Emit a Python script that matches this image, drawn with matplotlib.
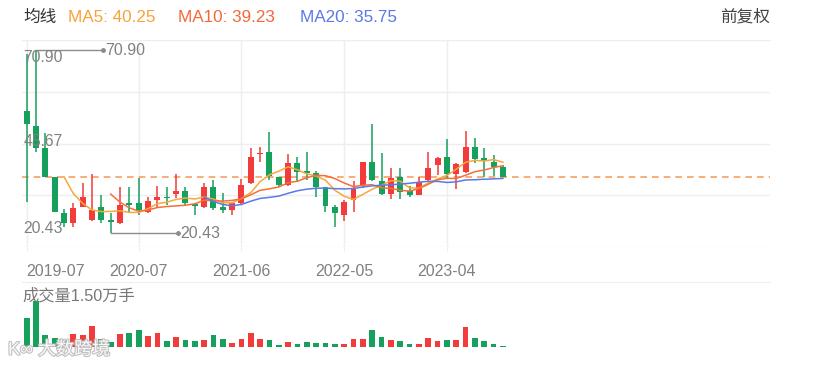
import numpy as np
import pandas as pd
import matplotlib
matplotlib.use("Agg")
import matplotlib.pyplot as plt
import matplotlib.patheffects as pe
from matplotlib.transforms import blended_transform_factory

plt.rcParams['font.family'] = ['Liberation Sans', 'Noto Sans CJK SC', 'DejaVu Sans']

# 月K线数据 (2019-07 ~ 2023-10)
opens = [54.08, 49.94, 43.87, 35.87, 25.94, 23.19, 27.60, 24.01, 27.60, 24.01,
         23.19, 28.70, 28.70, 26.22, 29.53, 30.36, 31.18, 32.01, 28.43, 27.60,
         33.12, 27.60, 26.77, 28.70, 34.22, 42.22, 42.77, 35.87, 33.67, 39.73,
         37.53, 36.98, 33.12, 27.60, 25.39, 29.53, 33.67, 40.01, 34.77, 31.18,
         35.87, 32.01, 30.91, 35.05, 39.18, 41.39, 36.70, 37.25, 44.15, 41.11,
         40.01, 38.63]
closes = [50.49, 43.87, 35.87, 26.22, 23.19, 27.32, 30.36, 26.77, 24.01, 23.46,
          28.15, 28.15, 26.77, 29.25, 30.36, 30.08, 32.01, 28.70, 27.88, 33.12,
          27.32, 26.77, 28.70, 33.67, 41.39, 42.49, 36.15, 33.67, 39.73, 37.25,
          36.98, 33.12, 27.88, 25.94, 28.98, 32.56, 40.01, 35.05, 31.18, 35.60,
          31.74, 30.91, 34.49, 38.36, 41.11, 36.70, 39.46, 44.15, 40.84, 40.29,
          38.63, 35.87]
highs = [69.80, 70.90, 48.01, 35.95, 27.05, 28.70, 34.22, 36.70, 30.91, 25.94,
         33.12, 33.12, 35.60, 30.36, 33.39, 33.12, 36.70, 33.12, 28.70, 34.22,
         35.05, 31.46, 28.98, 35.32, 43.87, 44.15, 48.28, 35.95, 42.22, 41.39,
         42.77, 37.53, 33.20, 28.15, 29.53, 34.77, 40.10, 50.49, 42.49, 38.36,
         38.36, 33.39, 35.87, 42.77, 41.39, 46.35, 39.73, 48.56, 46.63, 43.87,
         41.94, 39.18]
lows = [28.98, 42.77, 35.80, 26.10, 22.08, 22.08, 27.50, 23.74, 23.19, 20.43,
        23.00, 25.94, 25.39, 25.94, 27.60, 28.15, 30.08, 28.15, 25.39, 27.32,
        26.77, 25.94, 25.39, 28.15, 34.00, 40.01, 35.05, 33.12, 33.39, 34.49,
        35.05, 30.36, 26.22, 22.08, 23.74, 26.22, 32.84, 34.77, 30.91, 29.81,
        29.81, 30.36, 30.80, 34.49, 36.42, 35.60, 32.56, 37.10, 39.73, 35.87,
        36.15, 35.80]
# 成交量 (手)
volumes = [9450, 14750, 3970, 3000, 2160, 4100, 3770, 6770, 2680, 1520,
           4100, 4520, 5580, 3550, 4610, 1840, 3230, 2160, 1940, 2160,
           3870, 2480, 1390, 2580, 4610, 2480, 2350, 550, 1520, 1060,
           1710, 1290, 1290, 1060, 1060, 2580, 2680, 5390, 3230, 2350,
           1840, 1060, 870, 2900, 1940, 2350, 2350, 6450, 3000, 1840,
           1060, 320]

tick_idx = [0, 12, 23, 34, 45]
tick_labels = ["2019-07", "2020-07", "2021-06", "2022-05", "2023-04"]
price_labels = [70.90, 45.67, 20.43]
ma_windows = [5, 10, 20]
ma_texts = ["MA5: 40.25", "MA10: 39.23", "MA20: 35.75"]
vol_label = "成交量1.50万手"

RED = "#F23B3B"
GREEN = "#15A05C"
MA_COLORS = ["#F7A83A", "#F2713A", "#5B7AE6"]
GRID = "#EEEEEE"
LABEL = "#808080"

W, H = 832, 366


def rect(x0, y0, x1, y1):
    return [x0 / W, 1 - y1 / H, (x1 - x0) / W, (y1 - y0) / H]


o = np.array(opens)
c = np.array(closes)
hi = np.array(highs)
lo = np.array(lows)
x = np.arange(len(c))
up = c >= o
colors = np.where(up, RED, GREEN)

fig = plt.figure(figsize=(W / 100, H / 100), dpi=100)
fig.patch.set_facecolor("white")

# ---- 价格区 ----
ax = fig.add_axes(rect(22, 40, 770, 247))
ax.set_xlim(-0.5, 79.6)
ax.set_ylim(16.57, 73.66)
for s in ["left", "right", "bottom"]:
    ax.spines[s].set_visible(False)
ax.spines["top"].set_color(GRID)
ax.set_yticks(np.linspace(16.57, 73.66, 5))
ax.tick_params(axis="y", left=False, labelleft=False)
ax.grid(True, color=GRID, lw=1)
ax.set_axisbelow(True)
ax.set_xticks(tick_idx)
ax.set_xticklabels(tick_labels, fontsize=11.5, color=LABEL)
ax.get_xticklabels()[0].set_ha("left")
ax.tick_params(axis="x", length=3, color=GRID, pad=9)

# 影线 + 实体
ax.vlines(x, lo, hi, colors=colors, lw=1.1, zorder=3)
body_h = np.maximum(np.abs(c - o), 0.25)
ax.bar(x, body_h, bottom=np.minimum(o, c), width=0.64, color=colors, zorder=4)

# 均线
cs = pd.Series(c)
for w, col in zip(ma_windows, MA_COLORS):
    ma = cs.rolling(w).mean()
    ax.plot(x, ma, color=col, lw=1.1, zorder=5)

# 最新价虚线
ax.axhline(c[-1], color="#F7A060", lw=1.2, ls=(0, (4, 3)), zorder=2)

# 最高 / 最低标注
i_max, i_min = int(np.argmax(hi)), int(np.argmin(lo))
for i, v in [(i_max, hi[i_max]), (i_min, lo[i_min])]:
    ax.plot([i, i + 7.2], [v, v], color="#8C8C8C", lw=1, zorder=6)
    ax.plot([i + 7.2], [v], "o", color="#8C8C8C", ms=2.5, zorder=6)
    ax.text(i + 7.4, v, f"{v:.2f}", fontsize=11.5, color=LABEL, va="center", ha="left")

# 左侧价格标签
tr = blended_transform_factory(ax.transAxes, ax.transData)
for v, va in zip(price_labels, ["top", "center", "baseline"]):
    ax.text(0.002, v, f"{v:.2f}", transform=tr, fontsize=11.3, color=LABEL,
            va=va, ha="left", zorder=7)

# ---- 成交量区 ----
vax = fig.add_axes(rect(22, 282, 770, 347))
vax.set_xlim(-0.5, 79.6)
vax.set_ylim(0, 20970)
for s in ["left", "right", "bottom"]:
    vax.spines[s].set_visible(False)
vax.spines["top"].set_color(GRID)
vax.set_xticks([])
vax.set_yticks([])
vax.bar(x, volumes, width=0.62, color=colors)
fig.text(22 / W, 1 - 296 / H, vol_label, fontsize=11.7, color="#777777", va="center", ha="left")

# ---- 顶部图例 ----
fig.text(23 / W, 1 - 17 / H, "均线", fontsize=12, color="#333333", va="center", ha="left")
for xp, t, col in zip([68, 178, 300], ma_texts, ["#F9A23B", "#F2693A", "#5B78E8"]):
    fig.text(xp / W, 1 - 17 / H, t, fontsize=12.3, color=col, va="center", ha="left")
fig.text(770 / W, 1 - 17 / H, "前复权", fontsize=12, color="#444444", va="center", ha="right")

# 水印
fig.text(8 / W, 1 - 350 / H, "K∞ 大数跨境", fontsize=13, color="white", va="center", ha="left",
         alpha=0.9, path_effects=[pe.withStroke(linewidth=1.6, foreground="#BBBBBB")])

fig.savefig("out.png", dpi=100, facecolor="white")
